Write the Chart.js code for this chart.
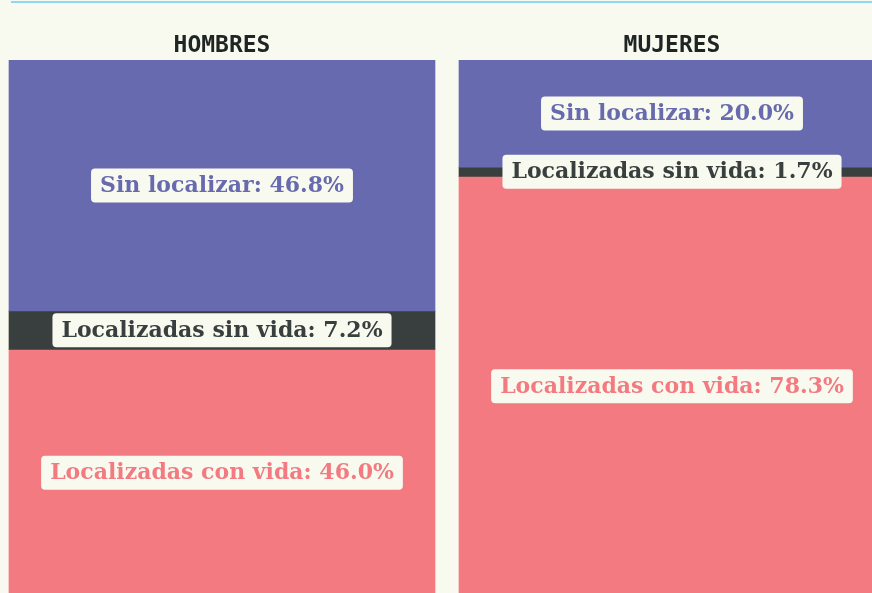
<!DOCTYPE html>
<html>
<head>
<meta charset="utf-8">
<script src="https://cdn.jsdelivr.net/npm/chart.js@4.4.1/dist/chart.umd.min.js"></script>
<style>
  html, body { margin: 0; padding: 0; background: #f9faef; overflow: hidden; }
  body { width: 872px; height: 593px; position: relative; }
  .topline { position: absolute; left: 11px; right: 0; top: 1px; height: 2px; background: #8fd8f5; }
  .wrap { position: absolute; left: -3px; top: 0; width: 900px; height: 600px; }
</style>
</head>
<body>
<div class="topline"></div>
<div class="wrap"><canvas id="chart"></canvas></div>
<script>
const categories = ["HOMBRES", "MUJERES"];
const seriesNames = ["Sin localizar", "Localizadas sin vida", "Localizadas con vida"];
const sinLocalizar = [46.8, 20.0];
const sinVida = [7.2, 1.7];
const conVida = [46.0, 78.3];
const colors = ["#686aaf", "#393f3e", "#f27a80"];

// label boxes in the middle of each segment
const segmentLabels = {
  id: "segmentLabels",
  afterDatasetsDraw(chart) {
    const ctx = chart.ctx;
    ctx.save();
    ctx.font = "bold 22px 'DejaVu Serif', serif";
    ctx.textAlign = "center";
    ctx.textBaseline = "middle";
    chart.data.datasets.forEach((ds, i) => {
      chart.getDatasetMeta(i).data.forEach((bar, j) => {
        const { x, y, base } = bar.getProps(["x", "y", "base"], true);
        const cy = (y + base) / 2;
        const text = ds.label + ": " + ds.data[j].toFixed(1) + "%";
        const w = ctx.measureText(text).width + 18;
        const h = 34;
        ctx.fillStyle = "#f9faef";
        ctx.beginPath();
        ctx.roundRect(x - w / 2, cy - h / 2, w, h, 4);
        ctx.fill();
        ctx.fillStyle = ds.backgroundColor;
        ctx.fillText(text, x, cy + 1);
      });
    });
    ctx.restore();
  }
};

new Chart(document.getElementById("chart"), {
  type: "bar",
  data: {
    labels: categories,
    datasets: [
      { label: seriesNames[0], data: sinLocalizar, backgroundColor: colors[0] },
      { label: seriesNames[1], data: sinVida, backgroundColor: colors[1] },
      { label: seriesNames[2], data: conVida, backgroundColor: colors[2] },
    ],
  },
  options: {
    responsive: true,
    maintainAspectRatio: false,
    animation: false,
    layout: { padding: { top: 0, bottom: 4, left: 0, right: 0 } },
    datasets: { bar: { barThickness: 426, borderWidth: 0 } },
    plugins: { legend: { display: false }, tooltip: { enabled: false } },
    scales: {
      x: {
        stacked: true,
        position: "top",
        grid: { display: false, drawTicks: false },
        border: { display: false },
        ticks: {
          color: "#1f2524",
          font: { family: "'DejaVu Sans Mono', monospace", weight: "bold", size: 23 },
          padding: 0,
        },
        afterFit: (scale) => { scale.height = 60; },
      },
      y: {
        stacked: true,
        reverse: true,
        min: 0,
        max: 100,
        display: false,
      },
    },
  },
  plugins: [segmentLabels],
});
</script>
</body>
</html>
